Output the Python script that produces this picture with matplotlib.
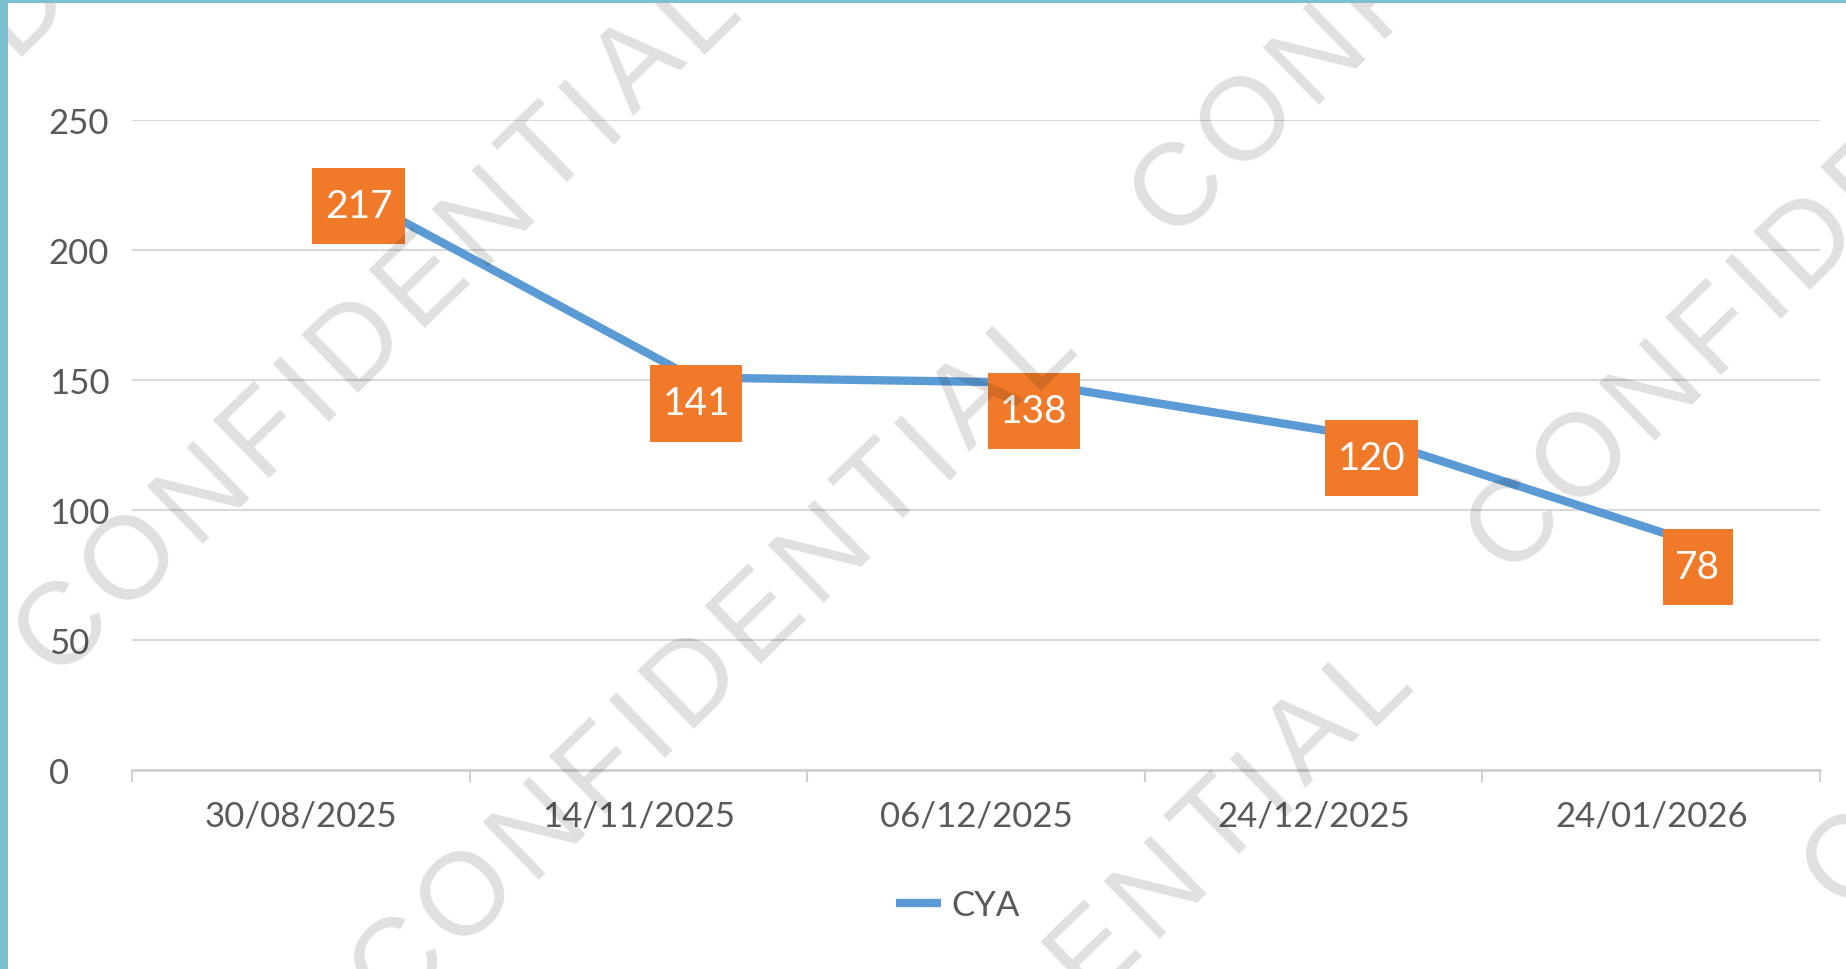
import numpy as np
import matplotlib
matplotlib.use("Agg")
import matplotlib.pyplot as plt
from matplotlib.lines import Line2D
from matplotlib.patches import Rectangle
from matplotlib.path import Path
from matplotlib.transforms import IdentityTransform

# ---------------- data ----------------
dates = ["30/08/2025", "14/11/2025", "06/12/2025", "24/12/2025", "24/01/2026"]
line_values = [221, 151, 149, 128, 86]      # where the blue line is drawn
label_values = [217, 141, 138, 120, 78]     # values shown in the orange labels
series_name = "CYA"
yticks = [0, 50, 100, 150, 200, 250]
watermark_text = "CONFIDENTIAL"

W, H = 1846, 970
fig = plt.figure(figsize=(W / 100, H / 100), dpi=100)
fig.patch.set_facecolor("white")

ax = fig.add_axes([132 / W, 1 - 771 / H, (1820 - 132) / W, 650 / H])
x = np.arange(len(dates))

ax.plot(x + 0.16, line_values, color="#5B9BD5", lw=6, solid_capstyle="butt",
        solid_joinstyle="round", zorder=3, clip_on=False)


def tall_box(x0, y0, width, height, mutation_size):
    px = 0.32 * mutation_size
    py = 0.52 * mutation_size
    verts = [(x0 - px, y0 - py), (x0 + width + px, y0 - py),
             (x0 + width + px, y0 + height + py), (x0 - px, y0 + height + py),
             (x0 - px, y0 - py)]
    return Path(verts, closed=True)


for xi, v in zip(x + 0.071, label_values):
    ax.text(xi, v, str(v), ha="left", va="center", color="white",
            fontsize=28, family="Lato", zorder=4,
            bbox=dict(boxstyle=tall_box, fc="#F07A2A", ec="none"))

ax.set_xlim(-0.5, len(dates) - 0.5)
ax.set_ylim(0, 250)
ax.set_yticks(yticks)
ax.set_xticks(x)
ax.set_xticklabels(dates, family="Lato")
ax.set_yticklabels([str(t) for t in yticks], family="Lato")
ax.set_xticks(np.arange(-0.5, len(dates), 1), minor=True)
ax.grid(axis="y", color="#d9d9d9", lw=1.5)
ax.set_axisbelow(True)
for s in ["top", "right", "left"]:
    ax.spines[s].set_visible(False)
ax.spines["bottom"].set_color("#d0d0d0")
ax.spines["bottom"].set_linewidth(2)
ax.tick_params(axis="y", length=0, pad=60, labelsize=25, labelcolor="#595959")
for lbl in ax.get_yticklabels():
    lbl.set_horizontalalignment("left")
ax.tick_params(axis="x", which="major", length=0, pad=21, labelsize=25,
               labelcolor="#595959")
ax.tick_params(axis="x", which="minor", length=8.6, width=1.5,
               color="#d0d0d0", direction="out")

handle = Line2D([], [], color="#5B9BD5", lw=6, solid_capstyle="butt")
leg = fig.legend([handle], [series_name], loc="center",
                 bbox_to_anchor=(957.5 / W, 1 - 906 / H), frameon=False,
                 prop={"family": "Lato", "size": 25}, handlelength=1.3,
                 handletextpad=0.3)
for t in leg.get_texts():
    t.set_color("#595959")

# ---------------- watermark ----------------
adv = {"C": 722, "O": 778, "N": 722, "F": 611, "I": 278, "D": 722,
       "E": 667, "T": 611, "A": 667, "L": 556}
wm_pt = 84
em = wm_pt * 100 / 72.0
cap = 0.716 * em
track = 9.5
theta = np.deg2rad(44.2)
d = np.array([np.cos(theta), -np.sin(theta)])       # along text (image coords)
down = np.array([np.sin(theta), np.cos(theta)])     # toward baseline


def draw_wm(c0):
    widths = [adv[ch] / 1000.0 * em for ch in watermark_text]
    s = 0.0
    for k, ch in enumerate(watermark_text):
        if k > 0:
            s += widths[k - 1] / 2 + track + widths[k] / 2
        p = np.array(c0) + s * d + down * cap / 2
        fig.text(p[0], H - p[1], ch, transform=IdentityTransform(),
                 ha="center", va="baseline", rotation=np.rad2deg(theta),
                 rotation_mode="anchor", fontsize=wm_pt,
                 family="Liberation Sans", color=(0, 0, 0, 0.125), zorder=20)


cA = np.array([55.0, 620.0])
u = np.array([780.0, -775.0])
v = np.array([336.0, 336.0])
for i in range(-2, 3):
    for j in range(-3, 5):
        c = cA + i * u + j * v
        end = c + 900 * d
        if max(c[0], end[0]) < -150 or min(c[0], end[0]) > W + 150:
            continue
        if max(c[1], end[1]) < -150 or min(c[1], end[1]) > H + 150:
            continue
        draw_wm(c)

# ---------------- border ----------------
fig.patches.append(Rectangle((0, 0), 8 / W, 1, transform=fig.transFigure,
                             fc="#7fbfd2", ec="none", zorder=30))
fig.patches.append(Rectangle((0, 1 - 4 / H), 1, 4 / H, transform=fig.transFigure,
                             fc="#7fbfd2", ec="none", zorder=30))

fig.savefig("out.png", dpi=100)
